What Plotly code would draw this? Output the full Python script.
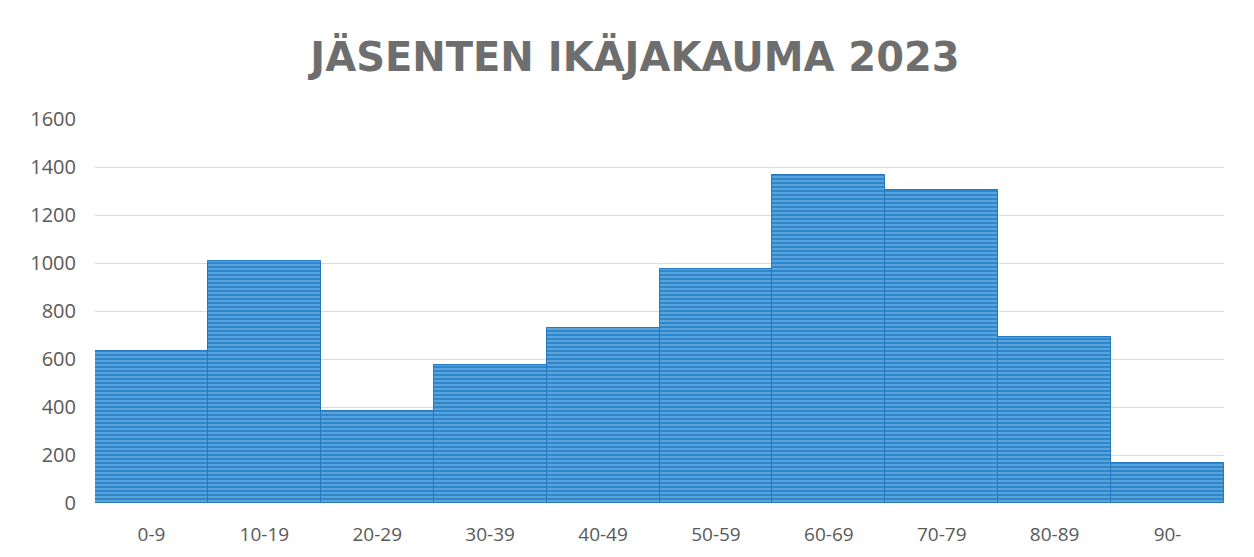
import plotly.graph_objects as go

categories = ["0-9", "10-19", "20-29", "30-39", "40-49", "50-59", "60-69", "70-79", "80-89", "90-"]
members = [635, 1010, 385, 575, 730, 975, 1365, 1305, 690, 165]
y_ticks = [0, 200, 400, 600, 800, 1000, 1200, 1400, 1600]
title_text = "JÄSENTEN IKÄJAKAUMA 2023"

fig = go.Figure(
    go.Bar(
        x=categories,
        y=members,
        marker=dict(
            color="#2c87cc",
            line=dict(color="#2578bf", width=1),
            pattern=dict(shape="-", fgcolor="#c8e4f9", size=4, solidity=0.3, fillmode="overlay"),
        ),
        hoverinfo="x+y",
    )
)

fig.update_layout(
    width=1254,
    height=557,
    paper_bgcolor="white",
    plot_bgcolor="white",
    margin=dict(l=87, r=38, t=111, b=62),
    bargap=0,
    showlegend=False,
    title=dict(
        text=title_text,
        x=0.5,
        xanchor="center",
        y=0.912,
        yanchor="middle",
        font=dict(family="DejaVu Sans", size=40, color="#6e6e6e", weight="bold"),
    ),
    xaxis=dict(
        showgrid=False,
        showline=False,
        ticks="",
        tickfont=dict(family="Open Sans", size=19, color="#595959"),
        ticklabelstandoff=18,
    ),
    yaxis=dict(
        range=[0, 1600],
        tickvals=y_ticks,
        showgrid=True,
        gridcolor="#dcdcdc",
        gridwidth=1,
        zeroline=False,
        showline=False,
        tickfont=dict(family="Open Sans", size=20, color="#595959"),
        ticklabelstandoff=18,
    ),
)

fig.write_html("out.html")
